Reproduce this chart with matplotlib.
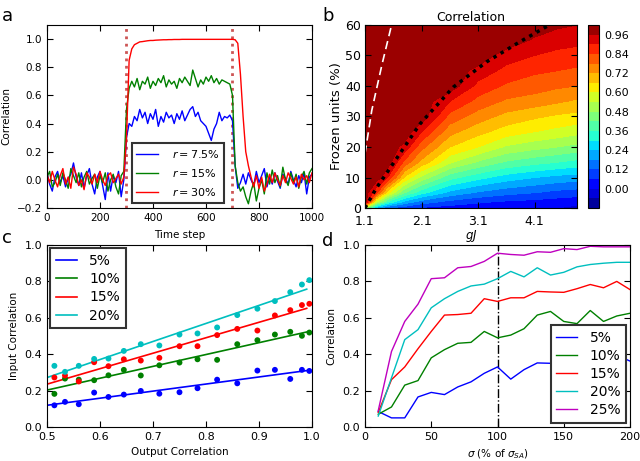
import numpy as np
import matplotlib
matplotlib.use('Agg')
from matplotlib import pyplot as plt

# ---- panel a: correlation vs time step (sampled every 10 steps) ----
time_steps = list(range(0, 1001, 10))
corr_r75 = [0.05, -0.03, -0.08, 0.02, 0.06, -0.02, 0.03, -0.05, 0.01, 0.04,
            0.12, 0.02, -0.04, 0.05, -0.06, 0.03, 0.08, -0.03, -0.10, 0.02,
            0.06, -0.04, -0.14, 0.05, -0.08, 0.03, -0.02, 0.06, -0.12, 0.00,
            0.30, 0.40, 0.38, 0.45, 0.42, 0.50, 0.44, 0.48, 0.40, 0.47,
            0.43, 0.50, 0.38, 0.45, 0.41, 0.48, 0.44, 0.46, 0.40, 0.47,
            0.43, 0.49, 0.42, 0.46, 0.50, 0.52, 0.45, 0.48, 0.42, 0.40,
            0.38, 0.33, 0.28, 0.36, 0.40, 0.48, 0.42, 0.45, 0.44, 0.46,
            0.42, 0.10, -0.06, -0.02, 0.04, -0.03, 0.05, 0.00, -0.04, 0.06,
            -0.02, 0.03, 0.08, -0.05, 0.02, -0.03, 0.05, -0.01, -0.06, 0.04,
            0.01, -0.03, 0.06, 0.00, -0.05, 0.03, -0.02, 0.05, -0.10, 0.02,
            0.04]
corr_r15 = [0.02, 0.06, -0.05, -0.02, 0.04, -0.04, 0.05, 0.00, -0.06, 0.08,
            0.03, -0.02, 0.05, -0.05, 0.02, 0.06, -0.03, 0.01, 0.04, -0.06,
            0.03, -0.02, 0.05, -0.08, 0.00, 0.04, -0.05, -0.10, 0.03, 0.06,
            0.50, 0.65, 0.70, 0.66, 0.72, 0.64, 0.70, 0.68, 0.73, 0.65,
            0.70, 0.67, 0.72, 0.69, 0.74, 0.66, 0.71, 0.68, 0.70, 0.65,
            0.72, 0.69, 0.73, 0.70, 0.67, 0.78, 0.72, 0.66, 0.71, 0.68,
            0.73, 0.70, 0.74, 0.69, 0.72, 0.68, 0.71, 0.70, 0.69, 0.68,
            0.60, 0.10, -0.02, -0.08, -0.05, -0.12, -0.17, -0.08, -0.02, -0.15,
            -0.06, 0.00, -0.10, 0.05, -0.03, 0.07, -0.02, 0.03, -0.05, 0.09,
            0.00, -0.04, 0.05, -0.02, 0.04, -0.06, 0.02, 0.06, -0.03, 0.05,
            0.08]
corr_r30 = [0.04, -0.02, 0.06, 0.00, -0.05, 0.03, 0.08, -0.03, 0.02, -0.06,
            0.09, 0.04, -0.04, 0.00, -0.07, 0.05, 0.02, -0.03, 0.04, -0.02,
            0.06, 0.00, -0.04, 0.03, 0.05, -0.02, 0.01, 0.04, -0.03, 0.02,
            0.30, 0.85, 0.93, 0.96, 0.97, 0.98, 0.982, 0.985, 0.988, 0.99,
            0.99, 0.992, 0.993, 0.994, 0.995, 0.995, 0.996, 0.996, 0.997, 0.997,
            0.997, 0.998, 0.998, 0.998, 0.998, 0.998, 0.998, 0.998, 0.998, 0.998,
            0.998, 0.998, 0.998, 0.998, 0.998, 0.998, 0.998, 0.998, 0.998, 0.998,
            0.998, 0.995, 0.97, 0.75, 0.45, 0.20, 0.10, 0.02, -0.05, 0.03,
            -0.06, 0.02, -0.08, -0.03, 0.04, -0.02, 0.05, 0.00, -0.04, 0.03,
            -0.02, 0.05, 0.01, -0.03, 0.02, -0.05, 0.04, 0.00, 0.03, -0.02,
            0.05]
onset_times = [300, 700]

# ---- panel b: correlation map over gJ and frozen units ----
gj_values = [1.1, 1.3, 1.5, 1.8, 2.1, 2.6, 3.1, 3.6, 4.1, 4.5, 4.85]
frozen_pct = [0, 2, 5, 10, 15, 20, 25, 30, 35, 40, 45, 50, 55, 60]
# rows = frozen_pct, columns = gj_values
corr_map = [
    [0.50, 0.20, 0.12, 0.08, 0.05, 0.03, 0.02, 0.01, 0.00, 0.00, -0.02],
    [1.00, 0.55, 0.35, 0.22, 0.15, 0.10, 0.07, 0.05, 0.04, 0.03, 0.02],
    [1.00, 0.85, 0.62, 0.42, 0.32, 0.22, 0.17, 0.14, 0.12, 0.10, 0.09],
    [1.00, 1.00, 0.90, 0.65, 0.52, 0.38, 0.32, 0.27, 0.24, 0.22, 0.21],
    [1.00, 1.00, 1.00, 0.82, 0.70, 0.55, 0.47, 0.41, 0.38, 0.36, 0.34],
    [1.00, 1.00, 1.00, 0.94, 0.80, 0.66, 0.60, 0.53, 0.50, 0.48, 0.46],
    [1.00, 1.00, 1.00, 1.00, 0.90, 0.74, 0.68, 0.63, 0.60, 0.58, 0.56],
    [1.00, 1.00, 1.00, 1.00, 1.00, 0.82, 0.75, 0.70, 0.67, 0.65, 0.64],
    [1.00, 1.00, 1.00, 1.00, 1.00, 0.90, 0.82, 0.77, 0.75, 0.73, 0.71],
    [1.00, 1.00, 1.00, 1.00, 1.00, 1.00, 0.88, 0.83, 0.81, 0.79, 0.78],
    [1.00, 1.00, 1.00, 1.00, 1.00, 1.00, 0.94, 0.88, 0.85, 0.84, 0.83],
    [1.00, 1.00, 1.00, 1.00, 1.00, 1.00, 1.00, 0.93, 0.90, 0.88, 0.87],
    [1.00, 1.00, 1.00, 1.00, 1.00, 1.00, 1.00, 1.00, 0.95, 0.93, 0.92],
    [1.00, 1.00, 1.00, 1.00, 1.00, 1.00, 1.00, 1.00, 1.00, 0.97, 0.96],
]
# theory curves drawn on the map
dotted_gj = [1.1, 1.3, 1.57, 2.07, 2.66, 3.25, 3.84, 4.36]
dotted_frozen = [0.0, 6.5, 13.8, 27.5, 39.6, 47.9, 54.5, 60.0]
dashed_gj = [1.1, 1.22, 1.4, 1.57]
dashed_frozen = [17.8, 32.0, 47.0, 60.0]

# ---- panel c: input vs output correlation ----
out_corr = [0.514, 0.534, 0.560, 0.589, 0.616, 0.645, 0.677, 0.712, 0.750,
            0.784, 0.821, 0.859, 0.897, 0.930, 0.959, 0.981, 0.995]
in_corr_5 = [0.119, 0.138, 0.125, 0.189, 0.165, 0.178, 0.198, 0.183, 0.191,
             0.213, 0.260, 0.240, 0.310, 0.314, 0.264, 0.314, 0.308]
in_corr_10 = [0.182, 0.266, 0.260, 0.257, 0.284, 0.314, 0.283, 0.339, 0.354,
              0.372, 0.369, 0.455, 0.477, 0.508, 0.523, 0.501, 0.519]
in_corr_15 = [0.272, 0.283, 0.250, 0.356, 0.334, 0.372, 0.365, 0.380, 0.444,
              0.444, 0.505, 0.539, 0.530, 0.613, 0.642, 0.670, 0.677]
in_corr_20 = [0.336, 0.303, 0.336, 0.374, 0.376, 0.418, 0.455, 0.448, 0.508,
              0.514, 0.547, 0.615, 0.650, 0.692, 0.741, 0.783, 0.807]

# ---- panel d: correlation vs sigma ----
sigma_pct = list(range(10, 201, 10))
corr_5 = [0.085, 0.050, 0.050, 0.165, 0.190, 0.178, 0.220, 0.248, 0.295, 0.330,
          0.263, 0.315, 0.352, 0.350, 0.340, 0.360, 0.370, 0.380, 0.395, 0.362]
corr_10 = [0.070, 0.110, 0.230, 0.255, 0.380, 0.425, 0.460, 0.465, 0.525, 0.490,
           0.505, 0.540, 0.615, 0.635, 0.580, 0.568, 0.640, 0.580, 0.610, 0.625]
corr_15 = [0.080, 0.260, 0.330, 0.430, 0.525, 0.615, 0.618, 0.625, 0.705, 0.690,
           0.710, 0.710, 0.745, 0.742, 0.740, 0.760, 0.783, 0.765, 0.800, 0.755]
corr_20 = [0.060, 0.270, 0.480, 0.535, 0.655, 0.705, 0.745, 0.775, 0.785, 0.815,
           0.855, 0.825, 0.875, 0.835, 0.850, 0.880, 0.893, 0.900, 0.905, 0.905]
corr_25 = [0.090, 0.415, 0.580, 0.675, 0.815, 0.820, 0.875, 0.882, 0.910, 0.955,
           0.948, 0.944, 0.963, 0.960, 0.980, 0.975, 0.993, 0.990, 0.990, 0.990]

plt.rcParams.update({'font.family': 'DejaVu Sans',
                     'xtick.direction': 'in', 'ytick.direction': 'in',
                     'xtick.top': True, 'ytick.right': True,
                     'xtick.major.size': 4, 'ytick.major.size': 4,
                     'mathtext.fontset': 'dejavusans'})


def style_legend(leg):
    frame = leg.get_frame()
    frame.set_edgecolor('#333333')
    frame.set_linewidth(1.5)
    frame.set_alpha(1)


fig = plt.figure(figsize=(6.4, 4.61), dpi=100)
ax_a = fig.add_axes([0.0734, 0.5488, 0.4141, 0.3970])
ax_b = fig.add_axes([0.5703, 0.5488, 0.3313, 0.3970])
ax_cb = fig.add_axes([0.9188, 0.5488, 0.0172, 0.3970])
ax_c = fig.add_axes([0.0734, 0.0738, 0.4141, 0.3947])
ax_d = fig.add_axes([0.5703, 0.0738, 0.4141, 0.3947])

# panel a
for t in onset_times:
    ax_a.axvline(t, color='#cc5555', linestyle=':', linewidth=2)
ax_a.plot(time_steps, corr_r75, color='b', lw=1, label=r'$r=7.5\%$')
ax_a.plot(time_steps, corr_r15, color='g', lw=1, label=r'$r=15\%$')
ax_a.plot(time_steps, corr_r30, color='r', lw=1, label=r'$r=30\%$')
ax_a.set_xlim(0, 1000)
ax_a.set_ylim(-0.2, 1.1)
ax_a.set_yticks([-0.2, 0.0, 0.2, 0.4, 0.6, 0.8, 1.0])
ax_a.tick_params(labelsize=7.5)
ax_a.set_xlabel('Time step', fontsize=7.5, labelpad=5)
ax_a.set_ylabel('Correlation', fontsize=7.5)
leg = ax_a.legend(loc='lower left', bbox_to_anchor=(0.32, 0.03), fontsize=8,
                  handlelength=2.0, handletextpad=1.2, fancybox=False,
                  borderaxespad=0, labelspacing=0.65)
style_legend(leg)

# panel b
levels = np.arange(-0.12, 1.03, 0.06)
cs = ax_b.contourf(gj_values, frozen_pct, corr_map, levels=levels, cmap='jet')
ax_b.plot(dotted_gj, dotted_frozen, color='k', linestyle=(0, (1, 1.4)),
          linewidth=2.5)
ax_b.plot(dashed_gj, dashed_frozen, color='w', linestyle=(0, (5, 3)),
          linewidth=1.2)
ax_b.set_xlim(1.1, 4.85)
ax_b.set_ylim(0, 60)
ax_b.set_xticks([1.1, 2.1, 3.1, 4.1])
ax_b.set_yticks([0, 10, 20, 30, 40, 50, 60])
ax_b.tick_params(labelsize=9)
ax_b.tick_params(axis='y', pad=3)
ax_b.tick_params(axis='x', pad=5)
ax_b.set_xlabel(r'$gJ$', fontsize=8.5, labelpad=0)
ax_b.set_ylabel('Frozen units (%)', fontsize=9.5, labelpad=1)
ax_b.set_title('Correlation', fontsize=9, pad=3)
cb = fig.colorbar(cs, cax=ax_cb, ticks=np.arange(0, 0.97, 0.12))
cb.ax.tick_params(labelsize=8, direction='in', length=0)
cb.ax.set_yticklabels(['%.2f' % v for v in np.arange(0, 0.97, 0.12)])

# panel c
series_c = [(in_corr_5, 'b', '5%'), (in_corr_10, 'g', '10%'),
            (in_corr_15, 'r', '15%'), (in_corr_20, 'c', '20%')]
x_fit = np.array([0.5, 0.99])
for vals, col, lab in series_c:
    slope, icpt = np.polyfit(out_corr, vals, 1)
    ax_c.plot(x_fit, slope * x_fit + icpt, color=col, lw=1.2, label=lab)
    ax_c.scatter(out_corr, vals, color=col, s=18, zorder=3, edgecolors='none')
ax_c.set_xlim(0.5, 1.0)
ax_c.set_ylim(0, 1.0)
ax_c.tick_params(labelsize=8)
ax_c.set_xlabel('Output Correlation', fontsize=7.5)
ax_c.set_ylabel('Input Correlation', fontsize=7.5)
leg = ax_c.legend(loc='upper left', fontsize=10, handlelength=1.5,
                  handletextpad=0.9, fancybox=False, borderaxespad=0.25,
                  labelspacing=0.3)
style_legend(leg)

# panel d
ax_d.axvline(100, color='k', linestyle='-.', linewidth=1)
series_d = [(corr_5, 'b', '5%'), (corr_10, 'g', '10%'), (corr_15, 'r', '15%'),
            (corr_20, 'c', '20%'), (corr_25, 'm', '25%')]
for vals, col, lab in series_d:
    ax_d.plot(sigma_pct, vals, color=col, lw=1, label=lab)
ax_d.set_xlim(0, 200)
ax_d.set_ylim(0, 1.0)
ax_d.tick_params(labelsize=8)
ax_d.set_xlabel(r'$\sigma$ (% of $\sigma_{SA}$)', fontsize=7.5)
ax_d.set_ylabel('Correlation', fontsize=7.5)
leg = ax_d.legend(loc='lower right', fontsize=10, handlelength=1.5,
                  handletextpad=0.9, fancybox=False, borderaxespad=0.3,
                  labelspacing=0.3)
style_legend(leg)

# panel letters
for x, y, s in [(0.003, 0.965, 'a'), (0.503, 0.965, 'b'),
                (0.003, 0.483, 'c'), (0.503, 0.478, 'd')]:
    fig.text(x, y, s, fontsize=13, va='center')

plt.savefig('out.png', dpi=100)
